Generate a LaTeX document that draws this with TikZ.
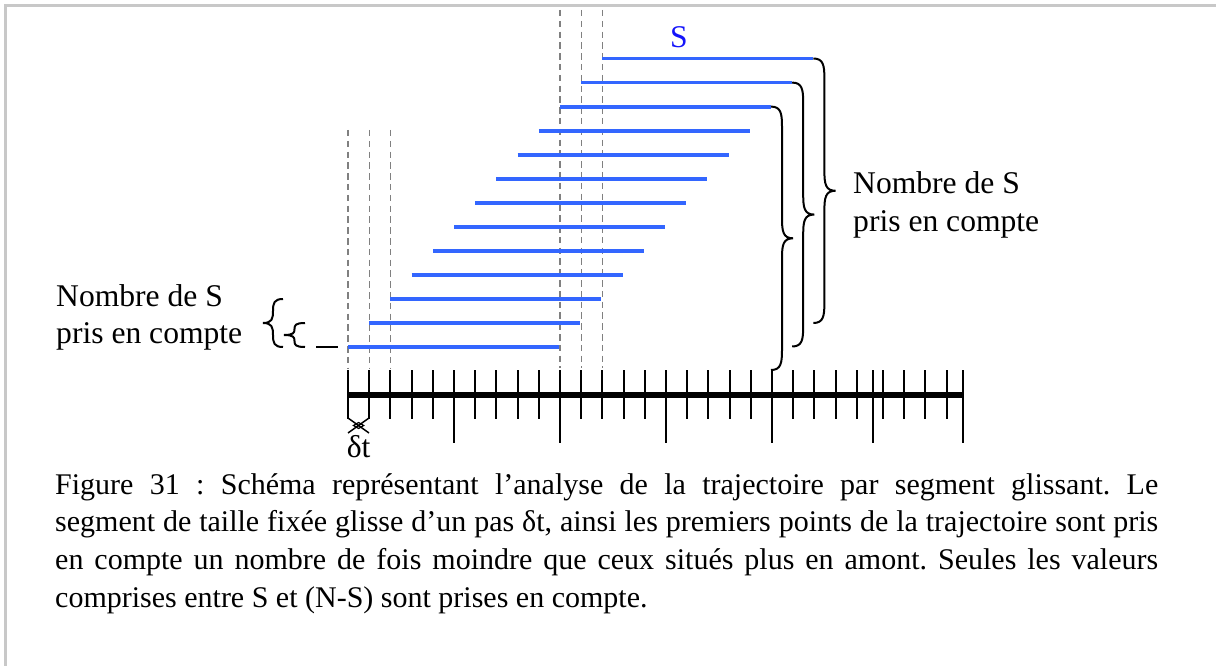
\documentclass[tikz,border=0pt]{standalone}
\usepackage{fontspec}
\setmainfont{Liberation Serif}
\definecolor{segblue}{RGB}{51,102,255}
\definecolor{sblue}{RGB}{20,20,250}
\definecolor{guidegray}{RGB}{128,128,128}
\definecolor{framegray}{RGB}{200,200,200}
\newcommand\mybrace[4]{%
  \pgfmathsetmacro\bh{min(0.9*abs(#4),((#3)-(#2))/4)}%
  \pgfmathsetmacro\ym{((#2)+(#3))/2}%
  \draw[brc] (#1,#2) .. controls ({#1+0.45*(#4)},#2) and ({#1+0.5*(#4)},{#2+0.35*\bh}) .. ({#1+0.5*(#4)},{#2+\bh})
    -- ({#1+0.5*(#4)},{\ym-\bh}) .. controls ({#1+0.5*(#4)},{\ym-0.35*\bh}) and ({#1+0.55*(#4)},\ym) .. ({#1+(#4)},\ym)
    .. controls ({#1+0.55*(#4)},\ym) and ({#1+0.5*(#4)},{\ym+0.35*\bh}) .. ({#1+0.5*(#4)},{\ym+\bh})
    -- ({#1+0.5*(#4)},{#3-\bh}) .. controls ({#1+0.5*(#4)},{#3-0.35*\bh}) and ({#1+0.45*(#4)},#3) .. (#1,#3);%
}
\begin{document}
\frenchspacing
\begin{tikzpicture}[x=1pt,y=-1pt,
  seg/.style={draw=segblue, line width=3.8pt},
  guide/.style={draw=guidegray, line width=1.3pt, dash pattern=on 6.5pt off 4.3pt},
  tickmark/.style={line width=2pt},
  lbl/.style={font=\fontsize{31.6pt}{37.7pt}\selectfont, inner sep=0pt, anchor=base west},
  captext/.style={font=\fontsize{30pt}{37.7pt}\selectfont\frenchspacing, inner sep=0pt, anchor=base west},
  brc/.style={line width=2pt}]
\useasboundingbox (0,0) rectangle (1216,666);
\draw[framegray, line width=2.3pt] (5.5,666) -- (5.5,5.5) -- (1216,5.5);
% dashed guides
\foreach \x in {560,581.2,602.4} \draw[guide] (\x,10) -- (\x,368);
\foreach \x in {348,369.2,390.4} \draw[guide] (\x,130) -- (\x,368);
% sliding segments
\foreach \i in {0,...,12} {
  \pgfmathsetmacro\xs{348+21.2*(12-\i)}
  \pgfmathsetmacro\ys{58.5+24.07*\i}
  \draw[seg] (\xs,\ys) -- ++(211,0);
}
% axis
\draw[line width=5.5pt] (347,395) -- (963.7,395);
\foreach \x in {348,369.2,390.4,411.6,432.8,475.2,496.4,517.6,538.8,581.2,602.4,623.6,644.8,687.2,708.4,729.6,750.8,793.2,814.4,835.6,856.8,883,904.2,925.2,946.6}
  \draw[tickmark] (\x,370) -- (\x,419);
\foreach \x in {454,560,666,772.2,872.7,962.7}
  \draw[tickmark] (\x,370) -- (\x,443);
% braces right
\mybrace{813.4}{58.5}{323}{22}
\mybrace{792.2}{82.6}{346.5}{22}
\mybrace{771}{106.6}{370}{22}
% braces left
\mybrace{283}{299}{347}{-20}
\mybrace{305}{323}{347}{-21}
\draw[brc] (316,347) -- (338,347);
% delta t marker
\draw[line width=1.5pt] (348,418) -- (369,433) (369,418) -- (348,433);
\draw[line width=1.2pt] (353.5,425.5) -- (358.6,422.5) -- (363.7,425.5) -- (358.6,428.5) -- cycle;
% labels
\node[lbl, anchor=base, text=sblue] (S) at (679,48) {S};
\node[lbl, anchor=base] (dt) at (358.6,457) {δt};
\node[lbl] (lt1) at (56,306) {Nombre de S};
\node[lbl] (lt2) at (56,343.7) {pris en compte};
\node[lbl] (rt1) at (853,193.3) {Nombre de S};
\node[lbl] (rt2) at (853,231) {pris en compte};
% caption
\node[captext] (c1) at (55,494) {\makebox[1103pt][s]{Figure 31 : Schéma représentant l’analyse de la trajectoire par segment glissant. Le}};
\node[captext] (c2) at (55,531.7) {\makebox[1103pt][s]{segment de taille fixée glisse d’un pas δt, ainsi les premiers points de la trajectoire sont pris}};
\node[captext] (c3) at (55,569.4) {\makebox[1103pt][s]{en compte un nombre de fois moindre que ceux situés plus en amont. Seules les valeurs}};
\node[captext] (c4) at (55,607.1) {comprises entre S et (N-S) sont prises en compte.};
\end{tikzpicture}
\end{document}
